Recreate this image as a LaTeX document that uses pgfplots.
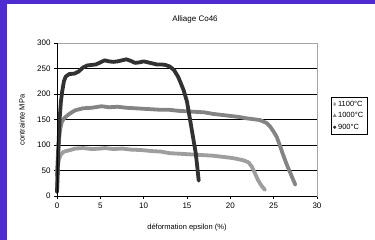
\documentclass[border=0pt]{standalone}
\usepackage{pgfplots}
\pgfplotsset{compat=1.18}
\usepackage{fontspec}
\setmainfont{Liberation Sans}
\definecolor{bgpurple}{RGB}{78,44,210}
\definecolor{c1100}{RGB}{158,158,158}
\definecolor{c1000}{RGB}{132,132,132}
\definecolor{c900}{RGB}{50,50,50}
\begin{document}
\begin{tikzpicture}
\useasboundingbox (0,0) rectangle (375pt,240pt);
\fill[white] (0,0) rectangle (375pt,240pt);
\fill[bgpurple] (0,0) rectangle (7pt,240pt);
\fill[bgpurple] (0,236pt) rectangle (375pt,240pt);
\begin{axis}[
  at={(57pt,44pt)}, anchor=south west,
  scale only axis, width=260pt, height=153pt,
  xmin=0, xmax=30, ymin=0, ymax=300,
  xtick={0,5,...,30}, ytick={0,50,...,300},
  tick align=outside, major tick length=3pt,
  xtick pos=bottom, ytick pos=left,
  axis line style={draw=gray!70, line width=0.6pt},
  ymajorgrids, grid style={black, line width=0.7pt},
  major tick style={black, line width=0.6pt},
  tick label style={font=\fontsize{8}{9}\selectfont},
  /pgf/number format/assume math mode=true,
  clip=false,
  legend style={at={(1.054,0.647)}, anchor=north west, draw=black, line width=0.6pt,
    font=\fontsize{7.5}{8.5}\selectfont, inner xsep=2pt, inner ysep=1.5pt,
    row sep=0.8pt, cells={anchor=west}},
  legend cell align=left,
  after end axis/.code={
    \draw[black, line width=0.7pt] (rel axis cs:0,0) -- (rel axis cs:0,1);
    \draw[black, line width=0.7pt] (rel axis cs:0,0) -- (rel axis cs:1,0);
  },
]
\addlegendimage{only marks, mark=diamond*, mark size=1.6pt, c1100}
\addlegendentry{1100°C\hspace{8pt}}
\addlegendimage{only marks, mark=triangle*, mark size=1.6pt, c1000}
\addlegendentry{1000°C}
\addlegendimage{only marks, mark=*, mark size=1.3pt, c900}
\addlegendentry{900°C}
% 1100
\addplot[c1100, line width=3.8pt, line join=round, line cap=round, forget plot] coordinates {
(0,8) (0.03,30) (0.08,55) (0.2,70) (0.4,80) (0.7,86) (1,88) (1.5,90) (2.1,93) (3,94) (4,92) (5,93) (5.5,94) (6.5,92) (7.5,93) (8.5,91) (9.8,90) (11,88) (12,87) (13,84) (14,83) (15,82) (16,81) (17,80) (18,79) (19,77) (20,75) (20.7,73) (21.5,70) (22.1,66) (22.5,57) (22.8,46) (23.2,31) (23.6,20) (24,12)
};
% 1000
\addplot[c1000, line width=3.8pt, line join=round, line cap=round, forget plot] coordinates {
(0,40) (0.1,80) (0.2,105) (0.35,130) (0.55,145) (0.8,152) (1.2,158) (1.6,163) (2.1,168) (3,172) (4,173) (5.15,176) (6,174) (7,175) (8,173) (9,172) (10,171) (11,170) (12,169) (13,169) (14,167) (15,166) (16,165) (17,164) (18,161) (19,159) (20,157) (21,155) (22,152) (23.4,149) (24.2,143) (24.6,136) (25,126) (25.35,116) (25.7,100) (26,85) (26.5,62) (27,42) (27.5,22)
};
% 900
\addplot[c900, line width=3.8pt, line join=round, line cap=round, forget plot] coordinates {
(0,8) (0.05,30) (0.12,70) (0.2,110) (0.3,150) (0.45,185) (0.6,205) (0.8,225) (1,234) (1.4,239) (2,240) (2.5,244) (3,252) (3.5,256) (4,257) (4.5,258) (5,262) (5.5,266) (6,264) (6.5,263) (7,264) (7.5,266) (8,268) (8.5,265) (9,261) (9.5,262) (10,264) (10.5,262) (11,260) (11.5,258) (12,258) (12.5,257) (13,254) (13.5,247) (14,233) (14.6,208) (15,185) (15.35,150) (15.7,115) (16,85) (16.2,55) (16.35,30)
};
\end{axis}
\node[font=\fontsize{8}{9}\selectfont] at (195pt,221pt) {Alliage Co46};
\node[font=\fontsize{7.5}{9}\selectfont, rotate=90] at (22pt,120pt) {contrainte MPa};
\node[font=\fontsize{7.5}{9}\selectfont] at (187pt,12pt) {déformation epsilon (\%)};
\end{tikzpicture}
\end{document}
